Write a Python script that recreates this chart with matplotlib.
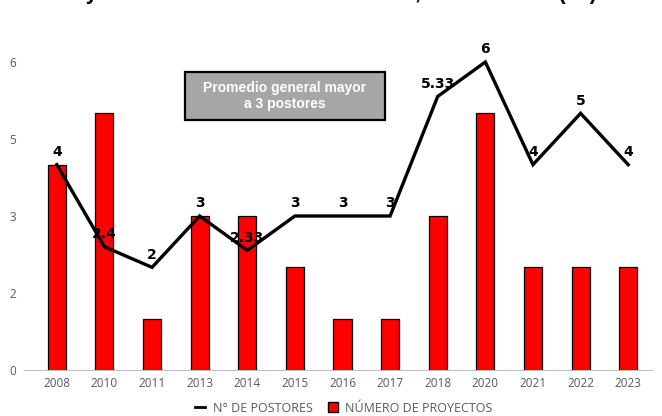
import matplotlib
matplotlib.use("Agg")
import matplotlib.pyplot as plt
from matplotlib.patches import Rectangle
from matplotlib.lines import Line2D
from matplotlib.patches import Patch

years = ["2008", "2010", "2011", "2013", "2014", "2015", "2016", "2017", "2018", "2020", "2021", "2022", "2023"]
proyectos = [4, 5, 1, 3, 3, 2, 1, 1, 3, 5, 2, 2, 2]
postores = [4, 2.4, 2, 3, 2.33, 3, 3, 3, 5.33, 6, 4, 5, 4]
postores_labels = ["4", "2.4", "2", "3", "2.33", "3", "3", "3", "5.33", "6", "4", "5", "4"]
yticks = [0, 1.5, 3, 4.5, 6]
ytick_labels = ["0", "2", "3", "5", "6"]
title = "Proyectos con Número de Postores, 2008 – 2023  (N°)"
note = "Promedio general mayor\na 3 postores"

W, H = 662, 416
fig = plt.figure(figsize=(W / 100, H / 100), dpi=100)

ax = fig.add_axes([33 / W, 46 / H, 619 / W, 334 / H], zorder=1)
x = list(range(len(years)))
ax.bar(x, proyectos, width=0.38, color="#ff0000", edgecolor="black", linewidth=0.9, zorder=2)
ax.plot(x, postores, color="black", linewidth=2.4, zorder=3, solid_joinstyle="miter")
for xi, v, lab in zip(x, postores, postores_labels):
    ax.annotate(lab, (xi, v), xytext=(0, 9), textcoords="offset points", ha="center", va="center",
                fontsize=10, fontweight="bold", color="black", family="DejaVu Sans", zorder=4)

ax.set_xlim(-0.5, len(years) - 0.5)
ax.set_ylim(0, 334 / (308 / 6))
ax.set_yticks(yticks)
ax.set_yticklabels(ytick_labels)
ax.set_xticks(x)
ax.set_xticklabels(years)
for s in ["top", "right", "left"]:
    ax.spines[s].set_visible(False)
ax.spines["bottom"].set_color("#bfbfbf")
ax.spines["bottom"].set_bounds(-0.68, len(years) - 0.5)
ax.tick_params(axis="both", length=0, labelsize=8.5, colors="#595959")
ax.tick_params(axis="y", pad=12)
ax.tick_params(axis="x", pad=5)
for t in ax.get_xticklabels() + ax.get_yticklabels():
    t.set_family("Open Sans")

# note box
fig.patches.append(Rectangle((185 / W, 1 - 120 / H), 200 / W, 48 / H, transform=fig.transFigure,
                             facecolor="#a6a6a6", edgecolor="black", linewidth=1.6, zorder=5))
fig.text(285 / W, 1 - 96 / H, note, ha="center", va="center", fontsize=10, fontweight="bold",
         color="white", family="Liberation Sans", linespacing=1.1, zorder=6)

# title: in the reference it sits above the top edge, only descenders peek in
fig.text(50 / W, 1 + 1 / H, title, ha="left", va="baseline", fontsize=15.5, fontweight="bold",
         family="Liberation Sans", color="black")

handles = [Line2D([0], [0], color="black", linewidth=2), Patch(facecolor="#ff0000", edgecolor="black")]
fig.legend(handles, ["N° DE POSTORES", "NÚMERO DE PROYECTOS"], loc="center", bbox_to_anchor=(344 / W, 1 - 408 / H),
           ncol=2, frameon=False, prop={"family": "Open Sans", "size": 9}, labelcolor="#595959",
           handlelength=0.8, handletextpad=0.6, columnspacing=1.2, handleheight=0.8)

fig.savefig("out.png", dpi=100)
